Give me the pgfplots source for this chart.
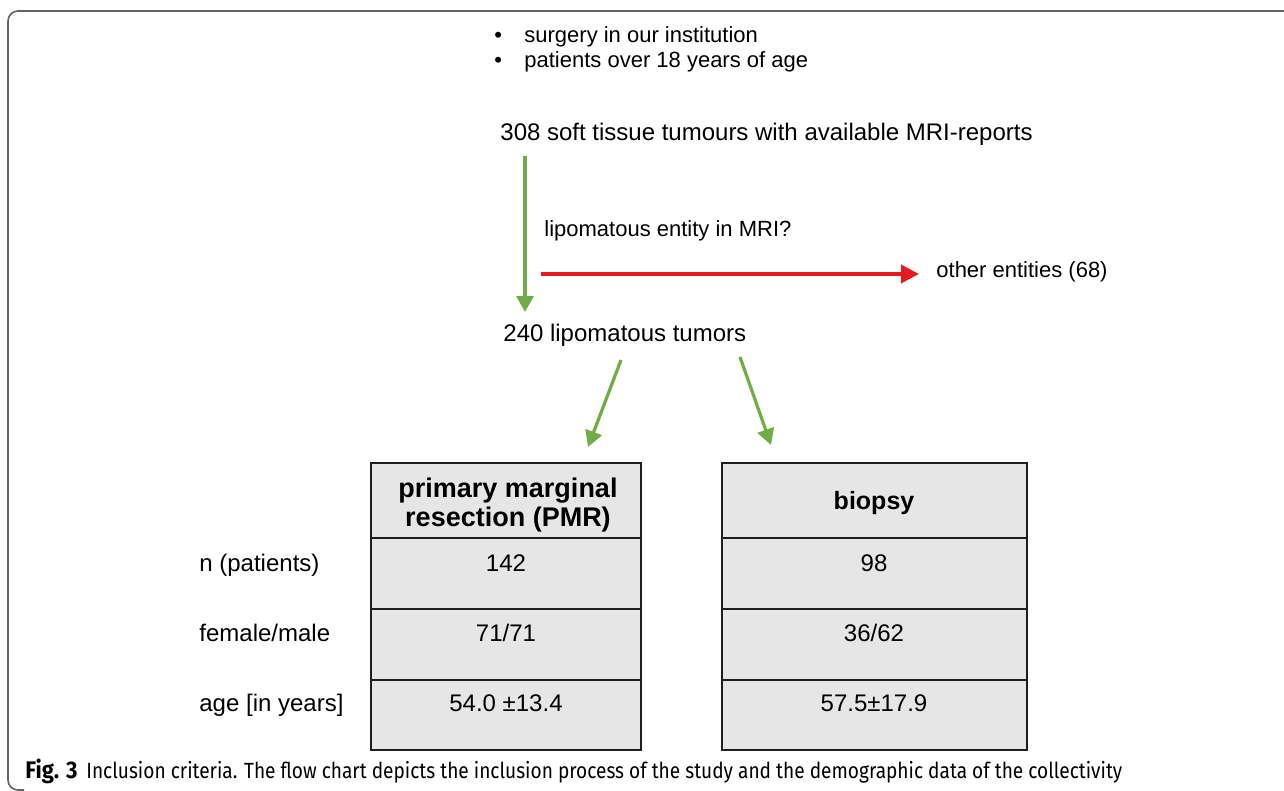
\documentclass[border=0pt]{standalone}
\usepackage{pgfplots}
\pgfplotsset{compat=1.18}
\usepackage{fontspec}
\usepackage{graphicx}
\setmainfont{Liberation Sans}
\newfontfamily\capfont{Fira Sans}
\usetikzlibrary{arrows.meta}
\definecolor{fcgreen}{RGB}{112,173,71}
\definecolor{fcred}{RGB}{228,28,32}
\definecolor{cellgray}{RGB}{230,230,230}
\definecolor{celledge}{RGB}{30,30,30}
\definecolor{framegray}{RGB}{100,100,100}
\begin{document}
\begin{tikzpicture}
\useasboundingbox (0,0) rectangle (642pt,395.5pt);
\begin{axis}[at={(0,0)}, anchor=south west, scale only axis,
  width=642pt, height=395.5pt,
  xmin=0, xmax=1284, ymin=0, ymax=791, y dir=reverse,
  hide axis, clip=false]
% frame
\addplot[framegray, line width=0.8pt, rounded corners=5pt, mark=none]
  coordinates {(1284,11) (8,11) (8,790) (24,790)};
% table boxes (filled)
\addplot[fill=cellgray, draw=celledge, line width=1pt, mark=none]
  coordinates {(371,463) (641,463) (641,750) (371,750)} -- cycle;
\addplot[fill=cellgray, draw=celledge, line width=1pt, mark=none]
  coordinates {(722,463) (1027,463) (1027,750) (722,750)} -- cycle;
% row separators
\foreach \yy in {538,609,680} {
  \addplot[celledge, line width=1pt, mark=none] coordinates {(371,\yy) (641,\yy)};
  \addplot[celledge, line width=1pt, mark=none] coordinates {(722,\yy) (1027,\yy)};
}
% arrows
\addplot[fcgreen, line width=1.6pt, mark=none, -{Triangle[length=8pt,width=8.5pt]}]
  coordinates {(525,156) (525,312)};
\addplot[fcred, line width=1.8pt, mark=none, -{Triangle[length=9pt,width=9pt]}]
  coordinates {(541,274) (919,274)};
\addplot[fcgreen, line width=1.6pt, mark=none, -{Triangle[length=8pt,width=8.5pt]}]
  coordinates {(621,360) (588,447)};
\addplot[fcgreen, line width=1.6pt, mark=none, -{Triangle[length=8pt,width=8.5pt]}]
  coordinates {(740,357) (771,445)};
% texts
\tikzset{t/.style={inner sep=0pt, font=\fontsize{11pt}{13pt}\selectfont, text=black},
         b/.style={inner sep=0pt, font=\fontsize{12pt}{14pt}\selectfont, text=black}}
\node[t, anchor=base west] at (axis cs:494,43) {\textbullet};
\node[t, anchor=base west] at (axis cs:524,43) {surgery in our institution};
\node[t, anchor=base west] at (axis cs:494,68) {\textbullet};
\node[t, anchor=base west] at (axis cs:524,68) {patients over 18 years of age};
\node[b, anchor=base west] at (axis cs:500,141) {308 soft tissue tumours with available MRI-reports};
\node[t, anchor=base west] at (axis cs:544,237) {lipomatous entity in MRI?};
\node[t, anchor=base west] at (axis cs:936,278) {other entities (68)};
\node[b, anchor=base west] at (axis cs:503,341) {240 lipomatous tumors};
% table headers
\node[b, anchor=base, font=\bfseries\fontsize{13.5pt}{15pt}\selectfont] at (axis cs:508,497) {primary marginal};
\node[b, anchor=base, font=\bfseries\fontsize{13.5pt}{15pt}\selectfont] at (axis cs:508,526) {resection (PMR)};
\node[b, anchor=base, font=\bfseries\fontsize{12.5pt}{15pt}\selectfont] at (axis cs:874,509) {biopsy};
% row labels
\node[b, anchor=base west] at (axis cs:199,571) {n (patients)};
\node[b, anchor=base west] at (axis cs:199,641) {female/male};
\node[b, anchor=base west] at (axis cs:199,711) {age [in years]};
% values
\node[b, anchor=base] at (axis cs:506,571) {142};
\node[b, anchor=base] at (axis cs:506,641) {71/71};
\node[b, anchor=base] at (axis cs:506,711) {54.0 \textpm13.4};
\node[b, anchor=base] at (axis cs:874,571) {98};
\node[b, anchor=base] at (axis cs:874,641) {36/62};
\node[b, anchor=base] at (axis cs:874,711) {57.5\textpm17.9};
% caption
\node[inner sep=0pt, anchor=base west] at (axis cs:25,778) {\scalebox{0.92}[1]{\capfont\fontsize{12pt}{14pt}\selectfont\textbf{Fig. 3}}};
\node[inner sep=0pt, anchor=base west] at (axis cs:86,778) {\scalebox{0.868}[1]{\capfont\fontsize{11pt}{13pt}\selectfont Inclusion criteria. The flow chart depicts the inclusion process of the study and the demographic data of the collectivity}};
\end{axis}
\end{tikzpicture}
\end{document}
